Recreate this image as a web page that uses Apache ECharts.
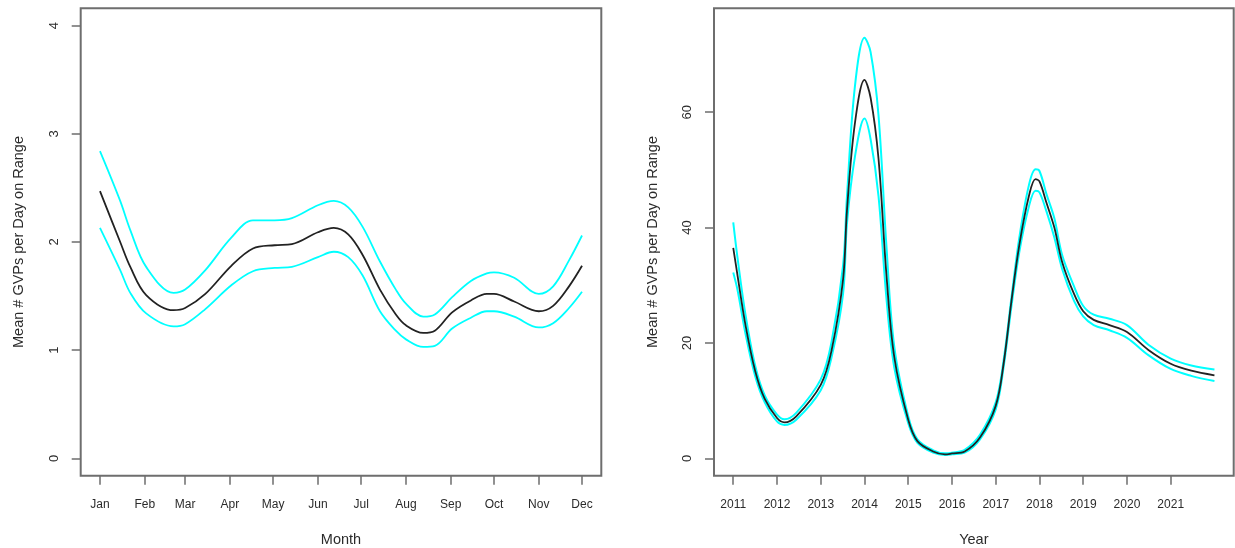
<!DOCTYPE html>
<html>
<head>
<meta charset="utf-8">
<script src="https://cdn.jsdelivr.net/npm/echarts@6/dist/echarts.min.js"></script>
<style>
html,body{margin:0;padding:0;background:#fff;}
#chart{width:1235px;height:548px;}
</style>
</head>
<body>
<div id="chart"></div>
<script>
// ---- Left panel: seasonal (day of year) ----
var monthTicks = [1, 32, 60, 91, 121, 152, 182, 213, 244, 274, 305, 335];
var monthLabels = ['Jan','Feb','Mar','Apr','May','Jun','Jul','Aug','Sep','Oct','Nov','Dec'];
var monthYTicks = [0, 1, 2, 3, 4];
var monthDays  = [1, 15, 22, 33, 52, 60, 74, 92, 107, 122, 134, 152, 163, 173, 183, 195, 206, 213, 225, 233, 245, 258, 269, 274, 288, 305, 315, 326, 335];
var monthMean  = [2.47, 2.00, 1.77, 1.51, 1.37, 1.39, 1.52, 1.78, 1.94, 1.97, 1.98, 2.09, 2.13, 2.07, 1.88, 1.56, 1.33, 1.23, 1.16, 1.18, 1.35, 1.46, 1.52, 1.52, 1.45, 1.36, 1.41, 1.59, 1.78];
var monthUpper = [2.84, 2.38, 2.11, 1.77, 1.53, 1.56, 1.74, 2.04, 2.20, 2.20, 2.22, 2.34, 2.38, 2.32, 2.14, 1.82, 1.56, 1.43, 1.31, 1.33, 1.49, 1.64, 1.71, 1.72, 1.67, 1.52, 1.59, 1.83, 2.06];
var monthLower = [2.13, 1.74, 1.53, 1.34, 1.22, 1.24, 1.38, 1.60, 1.73, 1.76, 1.77, 1.86, 1.91, 1.86, 1.69, 1.36, 1.18, 1.10, 1.03, 1.04, 1.20, 1.30, 1.36, 1.36, 1.31, 1.21, 1.25, 1.39, 1.54];

// ---- Right panel: by year ----
var yearTicks = [2011, 2012, 2013, 2014, 2015, 2016, 2017, 2018, 2019, 2020, 2021];
var yearYTicks = [0, 20, 40, 60];
var years = [2011, 2011.10, 2011.28, 2011.50, 2011.72, 2012, 2012.17, 2012.44, 2013, 2013.25, 2013.51, 2013.60, 2013.78, 2014, 2014.14, 2014.32, 2014.50, 2014.68, 2015, 2015.21, 2015.57, 2015.84, 2016, 2016.29, 2016.64, 2017, 2017.18, 2017.36, 2017.54, 2017.76, 2017.91, 2018, 2018.16, 2018.34, 2018.52, 2018.79, 2019, 2019.24, 2019.60, 2020, 2020.49, 2021, 2021.47, 2022];
var yearMean  = [36.5, 31.6, 23.1, 15.2, 10.3, 7.0, 6.25, 7.3, 12.75, 18.8, 31, 43, 58, 65.6, 62.5, 52, 32, 17.6, 6.7, 3.0, 1.2, 0.7, 0.85, 1.2, 3.6, 9.1, 16.4, 27.3, 37, 45.5, 48.4, 48, 44.3, 40, 34, 28.5, 25.5, 24, 23.1, 21.9, 18.8, 16.4, 15.2, 14.4];
var yearUpper = [40.9, 34.6, 24.9, 16.1, 10.9, 7.6, 6.8, 7.9, 13.7, 20.3, 33.4, 45.5, 64.4, 72.9, 70.4, 59.5, 37, 19.4, 7.3, 3.3, 1.4, 0.9, 1.0, 1.5, 4.1, 9.7, 17, 27.9, 38.3, 47.4, 50.1, 49.8, 45.8, 41.6, 35.2, 29.8, 26.4, 24.9, 24.2, 23.1, 19.7, 17.3, 16.1, 15.4];
var yearLower = [32.2, 29.1, 21.6, 14.3, 9.7, 6.4, 5.8, 6.7, 11.8, 17.6, 28.5, 40.7, 52.2, 58.9, 55.3, 45.5, 27.9, 15.8, 6.1, 2.7, 1.0, 0.6, 0.7, 1.0, 3.3, 8.5, 15.8, 26.4, 35.8, 43.7, 46.4, 46.1, 42.8, 38.3, 32.8, 27.3, 24.6, 23.1, 22.2, 20.9, 17.9, 15.5, 14.3, 13.4];

var yTitle = 'Mean # GVPs per Day on Range';
var FONT = '"Liberation Sans", Arial, sans-serif';
var TEXT = '#2b2b2b';
var FRAME = '#6e6e6e';

function zip(xs, ys) { return xs.map(function (x, i) { return [x, ys[i]]; }); }

function xAxisCfg(gridIndex, min, max, ticks, fmt, name) {
  return {
    type: 'value', gridIndex: gridIndex, min: min, max: max,
    axisLine: { show: false, onZero: false },
    splitLine: { show: false },
    axisTick: { show: true, inside: false, length: 9, customValues: ticks, lineStyle: { color: FRAME, width: 1.5 } },
    axisLabel: { show: true, customValues: ticks, formatter: fmt, margin: 23, color: TEXT, fontSize: 12, fontFamily: FONT },
    name: name, nameLocation: 'middle', nameGap: 57,
    nameTextStyle: { color: TEXT, fontSize: 14.5, fontFamily: FONT }
  };
}
function yAxisCfg(gridIndex, min, max, ticks) {
  return {
    type: 'value', gridIndex: gridIndex, min: min, max: max,
    axisLine: { show: false, onZero: false },
    splitLine: { show: false },
    axisTick: { show: true, inside: false, length: 9, customValues: ticks, lineStyle: { color: FRAME, width: 1.5 } },
    axisLabel: { show: true, customValues: ticks, rotate: 90, margin: 20, color: TEXT, fontSize: 13, fontFamily: FONT },
    name: yTitle, nameLocation: 'middle', nameRotate: 90, nameGap: 54,
    nameTextStyle: { color: TEXT, fontSize: 14.5, fontFamily: FONT }
  };
}
function lineSeries(xi, data, color, width, z) {
  return {
    type: 'line', xAxisIndex: xi, yAxisIndex: xi, data: data,
    smooth: 0.35, showSymbol: false, symbol: 'none', z: z,
    lineStyle: { color: color, width: width },
    silent: true, animation: false
  };
}

var chart = echarts.init(document.getElementById('chart'), null, { renderer: 'canvas' });
chart.setOption({
  backgroundColor: '#ffffff',
  animation: false,
  grid: [
    { left: 80.7, top: 8.3, width: 520.6, height: 467.4, containLabel: false, outerBoundsMode: 'none', show: true, borderColor: FRAME, borderWidth: 2, backgroundColor: 'transparent' },
    { left: 714, top: 8.3, width: 519.7, height: 467.4, containLabel: false, outerBoundsMode: 'none', show: true, borderColor: FRAME, borderWidth: 2, backgroundColor: 'transparent' }
  ],
  xAxis: [
    xAxisCfg(0, -12.36, 348.36, monthTicks, function (v) {
      var i = monthTicks.indexOf(Math.round(v)); return i >= 0 ? monthLabels[i] : '';
    }, 'Month'),
    xAxisCfg(1, 2010.56, 2022.44, yearTicks, function (v) { return String(Math.round(v)); }, 'Year')
  ],
  yAxis: [
    yAxisCfg(0, -0.16, 4.16, monthYTicks),
    yAxisCfg(1, -3, 78, yearYTicks)
  ],
  series: [
    lineSeries(0, zip(monthDays, monthUpper), '#00ffff', 1.8, 2),
    lineSeries(0, zip(monthDays, monthLower), '#00ffff', 1.8, 2),
    lineSeries(0, zip(monthDays, monthMean), '#222222', 1.8, 3),
    lineSeries(1, zip(years, yearUpper), '#00ffff', 2, 2),
    lineSeries(1, zip(years, yearLower), '#00ffff', 2, 2),
    lineSeries(1, zip(years, yearMean), '#222222', 1.8, 3)
  ]
});
</script>
</body>
</html>
